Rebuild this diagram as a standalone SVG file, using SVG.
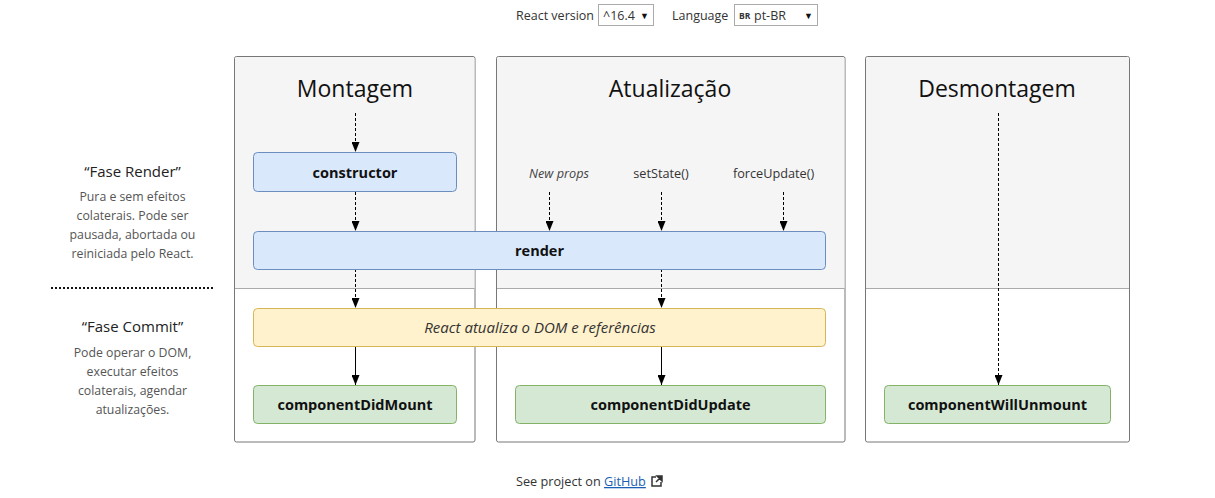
<svg xmlns="http://www.w3.org/2000/svg" width="1215" height="498" viewBox="0 0 1215 498">
<style>
text{font-family:"Open Sans","Noto Sans","Liberation Sans",sans-serif;fill:#222}
.col{fill:#fff;stroke:#777;stroke-width:1}
.top{fill:#f5f5f5}
.div{stroke:#aaa;stroke-width:1}
.title{font-size:23px;text-anchor:middle;fill:#111}
.blue{fill:#dae8fc;stroke:#6c8ebf;stroke-width:1}
.yel{fill:#fff2cc;stroke:#d6b656;stroke-width:1}
.grn{fill:#d5e8d4;stroke:#82b366;stroke-width:1}
.lbl{font-size:14.5px;font-weight:bold;text-anchor:middle;fill:#111}
.small{font-size:12.7px;text-anchor:middle;fill:#333}
.side{font-size:12.3px;text-anchor:middle;fill:#555}
.sideh{font-size:15px;text-anchor:middle;fill:#222}
.dash{stroke:#000;stroke-width:1;stroke-dasharray:3,2;fill:none;marker-end:url(#ah)}
.solid{stroke:#000;stroke-width:1;fill:none;marker-end:url(#ah)}
.ui{font-size:12.5px;fill:#333}
</style>
<defs>
<marker id="ah" markerWidth="10" markerHeight="8" refX="10" refY="4" orient="auto" markerUnits="userSpaceOnUse" viewBox="0 0 10 8">
<path d="M0,0 L10,4 L0,8 Z" fill="#000"/>
</marker>
</defs>
<rect width="1215" height="498" fill="#fff"/>

<g id="header">
<text x="516" y="20" class="ui">React version</text>
<rect x="598.5" y="4.5" width="55" height="21" fill="#fff" stroke="#aaa"/>
<text x="603" y="19.5" class="ui">^16.4</text>
<text x="640" y="18.5" style="font-size:9px;fill:#111">▼</text>
<text x="672" y="20" class="ui">Language</text>
<rect x="734.5" y="4.5" width="83" height="21" fill="#fff" stroke="#aaa"/>
<text x="739" y="19" style="font-size:8.5px;font-weight:bold;fill:#333">BR</text>
<text x="754" y="19.5" class="ui">pt-BR</text>
<text x="804" y="18.5" style="font-size:9px;fill:#111">▼</text>
</g>

<g id="side-render">
<text x="132.5" y="177" class="sideh">“Fase Render”</text>
<text x="132.5" y="201" class="side">Pura e sem efeitos</text>
<text x="132.5" y="220" class="side">colaterais. Pode ser</text>
<text x="132.5" y="239" class="side">pausada, abortada ou</text>
<text x="132.5" y="258" class="side">reiniciada pelo React.</text>
</g>
<line x1="51" y1="288" x2="214" y2="288" stroke="#111" stroke-width="2" stroke-dasharray="2,2"/>
<g id="side-commit">
<text x="132.5" y="332" class="sideh">“Fase Commit”</text>
<text x="132.5" y="357" class="side">Pode operar o DOM,</text>
<text x="132.5" y="376" class="side">executar efeitos</text>
<text x="132.5" y="395" class="side">colaterais, agendar</text>
<text x="132.5" y="414" class="side">atualizações.</text>
</g>

<g id="col-montagem">
<rect x="234.5" y="56.5" width="240.5" height="385.5" rx="2" class="col"/>
<path d="M235,288 V59 Q235,57 237,57 H472.5 Q474.5,57 474.5,59 V288 Z" class="top"/>
<line x1="235" y1="288.5" x2="474.5" y2="288.5" class="div"/>
<text x="355" y="97" class="title">Montagem</text>
</g>
<g id="col-atualizacao">
<rect x="496.5" y="56.5" width="348.5" height="385.5" rx="2" class="col"/>
<path d="M497,288 V59 Q497,57 499,57 H842.5 Q844.5,57 844.5,59 V288 Z" class="top"/>
<line x1="497" y1="288.5" x2="844.5" y2="288.5" class="div"/>
<text x="670" y="97" class="title">Atualização</text>
<text x="559" y="178" class="small" style="font-style:italic;fill:#444">New props</text>
<text x="661" y="178" class="small">setState()</text>
<text x="773.5" y="178" class="small">forceUpdate()</text>
</g>
<g id="col-desmontagem">
<rect x="865.5" y="56.5" width="264" height="385.5" rx="2" class="col"/>
<path d="M866,288 V59 Q866,57 868,57 H1127 Q1129,57 1129,59 V288 Z" class="top"/>
<line x1="866" y1="288.5" x2="1129" y2="288.5" class="div"/>
<text x="997" y="97" class="title">Desmontagem</text>
</g>

<g id="connectors">
<line x1="355.5" y1="113" x2="355.5" y2="152" class="dash"/>
<line x1="355.5" y1="192" x2="355.5" y2="231" class="dash"/>
<line x1="355.5" y1="269" x2="355.5" y2="308" class="dash"/>
<line x1="355.5" y1="346" x2="355.5" y2="385" class="solid"/>
<line x1="549.5" y1="192" x2="549.5" y2="231" class="dash"/>
<line x1="661.5" y1="192" x2="661.5" y2="231" class="dash"/>
<line x1="783.5" y1="192" x2="783.5" y2="231" class="dash"/>
<line x1="661.5" y1="269" x2="661.5" y2="308" class="dash"/>
<line x1="661.5" y1="346" x2="661.5" y2="385" class="solid"/>
<line x1="998.5" y1="113" x2="998.5" y2="385" class="dash"/>
</g>

<g id="node-constructor">
<rect x="253.5" y="152.5" width="203" height="39" rx="4" class="blue"/>
<text x="355" y="177.5" class="lbl">constructor</text>
</g>
<g id="node-render">
<rect x="253.5" y="231.5" width="572" height="38" rx="4" class="blue"/>
<text x="539.5" y="256" class="lbl">render</text>
</g>
<g id="node-dom">
<rect x="253.5" y="308.5" width="572" height="38" rx="4" class="yel"/>
<text x="540" y="333" class="small" style="font-size:15px;font-style:italic;fill:#333">React atualiza o DOM e referências</text>
</g>
<g id="node-didmount">
<rect x="253.5" y="385.5" width="203" height="38" rx="4" class="grn"/>
<text x="355" y="410" class="lbl">componentDidMount</text>
</g>
<g id="node-didupdate">
<rect x="515.5" y="385.5" width="310" height="38" rx="4" class="grn"/>
<text x="670.5" y="410" class="lbl">componentDidUpdate</text>
</g>
<g id="node-willunmount">
<rect x="884.5" y="385.5" width="226" height="38" rx="4" class="grn"/>
<text x="997.5" y="410" class="lbl">componentWillUnmount</text>
</g>

<g id="footer">
<text x="516" y="486" class="ui" style="font-size:12.7px">See project on <tspan text-decoration="underline" style="fill:#1a5fb4">GitHub</tspan></text>
<path d="M656,477 H652 V486 H661 V482" fill="none" stroke="#333" stroke-width="1.5"/>
<path d="M657,476 H662 V481 Z M661,477 L656,482" fill="#333" stroke="#333" stroke-width="1.5"/>
</g>
</svg>
